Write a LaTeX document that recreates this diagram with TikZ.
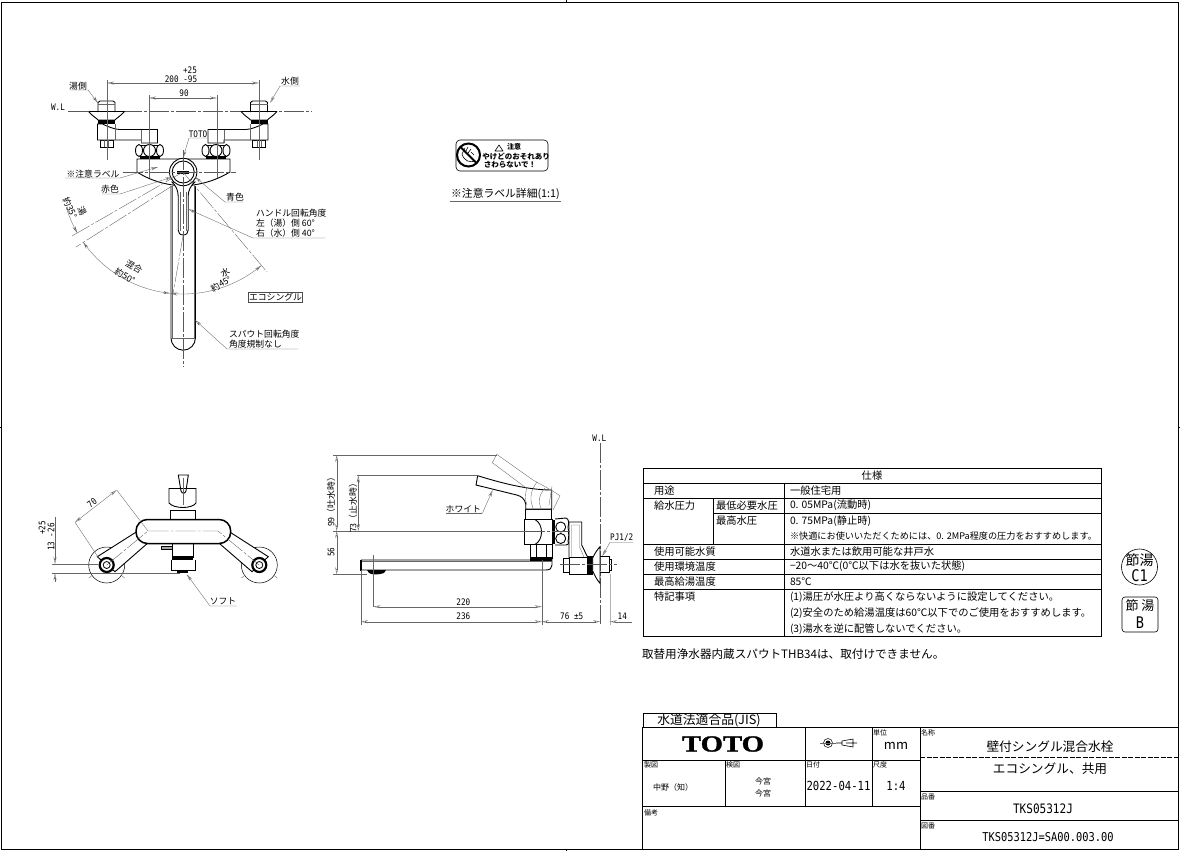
\documentclass[tikz,border=0pt]{standalone}
\usepackage{fontspec}
\usetikzlibrary{arrows.meta,positioning}
\setmainfont{Noto Sans CJK JP}
\newfontfamily\latinfont[FakeStretch=0.85]{DejaVu Sans Mono}
\newfontfamily\logofont[FakeStretch=1.25,FakeBold=1.5]{Liberation Serif}

\tikzset{
  every node/.style={inner sep=0pt,outer sep=0pt},
  thinline/.style={line width=0.35pt,black!60},
  outline/.style={line width=0.9pt},
  heavy/.style={line width=1.5pt},
  centerline/.style={line width=0.35pt,black!65,dash pattern=on 20pt off 2pt on 3pt off 2pt},
  dimline/.style={line width=0.35pt,black!60,{Stealth[open,length=7pt,width=3pt]}-{Stealth[open,length=7pt,width=3pt]}},
  leader/.style={line width=0.35pt,black!60,-{Stealth[open,length=7pt,width=3pt]}},
  note/.style={font=\fontsize{8.8}{10}\selectfont},
  dimtext/.style={font=\latinfont\fontsize{9}{10}\selectfont},
  cell/.style={font=\fontsize{10.3}{11}\selectfont,anchor=west},
  smallcell/.style={font=\fontsize{10.3}{11}\selectfont,anchor=west},
  tag/.style={font=\fontsize{7}{8}\selectfont,anchor=west},
  rule/.style={line width=0.5pt},
  block/.style={line width=1pt},
}

\begin{document}
\begin{tikzpicture}[x=1pt,y=-1pt]
\useasboundingbox (0,0) rectangle (1180,851);
\fill[white] (0,0) rectangle (1180,851);

% sheet frame
\draw[line width=1pt] (1.5,2.7) -- (1178,2.7) -- (1178,849) -- (1.5,849) -- cycle;
\draw[line width=0.6pt] (566.7,0) -- (566.7,2.7) (0,427) -- (1.5,427) (1178,427) -- (1180,427) (566.7,849) -- (566.7,851);

% front view, heads and arms
\draw[centerline] (68,111) -- (312,111);
\foreach \hx/\sgn in {106.5/1,259/-1}{
  \begin{scope}[shift={(\hx,0)},x=\sgn pt]
    \draw[outline,fill=white] (-8.5,112) -- (-8.5,102.5) -- (-6.5,101) -- (6.5,101) -- (8.5,102.5) -- (8.5,112);
    \draw[thinline] (-8.5,104) -- (8.5,104);
    \draw[outline] (-18,111.5) -- (18,111.5) (-18,111.5) .. controls (-13,117) and (-10,118) .. (-8.5,120) -- (8.5,120) .. controls (10,118) and (13,117) .. (18,111.5);
    \fill (-8.5,120) rectangle (8.5,124);
    \draw[outline,fill=white] (-6.5,140) rectangle (6.5,147);
    \draw[thinline] (-2,140) -- (-2,147) (2,140) -- (2,147);
    \draw[outline,fill=white] (-9,124) -- (-9,140) -- (35,140) -- (35,143) -- (51,143) -- (51,129.5) -- (13,129.5) .. controls (8,129.5) and (0,126) .. (-4,124) -- cycle;
    \draw[thinline] (35,129.5) -- (35,143) (9,124) -- (9,140);
    \draw[outline] (33,145) -- (53,145) (33,156) -- (53,156);
    \draw[outline,fill=white] (32.5,150.5) circle[x radius=3.5,y radius=6];
    \draw[outline,fill=white] (53.5,150.5) circle[x radius=3.5,y radius=6];
    \draw[outline,fill=white] (43,150.5) circle[x radius=6,y radius=6];
    \fill (33,156) rectangle (53,158.5);
  \end{scope}
}
% front view, body, spout and handle
\draw[outline,fill=white] (137,159) -- (230,159) -- (230,172) .. controls (215,181) and (200,185) .. (183,186) .. controls (166,185) and (151,181) .. (137,172) -- cycle;
\draw[outline] (171,186) -- (171,338) arc[start angle=180,end angle=0,radius=12.2] -- (195.4,186);
\draw[thinline] (172.5,186) -- (172.5,338) (193.9,186) -- (193.9,338) (171,338) -- (195.4,338);
\draw[outline,fill=white] (183.2,235) .. controls (180,235) and (178.2,233) .. (178.2,230) -- (178.2,196) .. controls (178,190) and (176,186) .. (172,182) -- (195,182) .. controls (190.5,186) and (188.4,190) .. (188.2,196) -- (188.2,230) .. controls (188.2,233) and (186.4,235) .. (183.2,235) -- cycle;
\draw[thinline] (180,192) -- (180,231) (186.5,192) -- (186.5,231);
\draw[outline,fill=white] (183.2,172) circle[radius=13.7];
\draw[outline,fill=white] (183.2,172) circle[radius=11];
\fill (177,171) rectangle (189,173.5);

% front view, center and dimension lines
\draw[centerline] (183.2,150) -- (183.2,367);
\draw[centerline] (123,172) -- (236,172);
\draw[centerline] (183,172) -- (267,272);
\draw[centerline] (183,172) -- (72,236);
\draw[centerline] (172,186) -- (76,247);
\draw[centerline] (183,236) -- (173,294);
\draw[thinline] (107,80) -- (107,160) (259,80) -- (259,160);
\draw[thinline] (149,95) -- (149,178) (217,95) -- (217,178);
\draw[dimline] (107,83) -- (259,83);
\draw[dimline] (149,98) -- (217,98);
\draw[dimline] plot[domain=50:96,samples=30] ({183+122*cos(\x)},{172+122*sin(\x)});
\draw[dimline] plot[domain=96:145,samples=30] ({183+122*cos(\x)},{172+122*sin(\x)});
\draw[thinline,{Stealth[open,length=7pt,width=3pt]}-] plot[domain=150:163,samples=15] ({183+122*cos(\x)},{172+122*sin(\x)});

\node[dimtext] (upperTol) at (190,70) {+25};
\node[dimtext] (outerDim) at (181,79) {200 -95};
\node[dimtext] (innerDim) at (184,93) {90};
\node[dimtext] (frontWL) at (58,107) {W.L};
\node[note] (hotSide) at (78,86) {湯側};
\node[note] (coldSide) at (290,81) {水側};
\node[dimtext] (brandMark) at (198,134) {TOTO};
\node[note] (cautionTag) at (93,174) {※注意ラベル};
\node[note] (redTag) at (110,189) {赤色};
\node[note] (blueTag) at (235,197) {青色};
\node[note,anchor=west] (handleA) at (256,213) {ハンドル回転角度};
\node[note,anchor=west] (handleB) at (256,223) {左（湯）側 60°};
\node[note,anchor=west] (handleC) at (256,233) {右（水）側 40°};
\node[note,draw,line width=0.4pt,black!70,text=black,inner xsep=0.5pt,minimum height=10pt] (ecoTag) at (275.5,297) {エコシングル};
\node[note,anchor=west] (spoutA) at (229,334) {スパウト回転角度};
\node[note,anchor=west] (spoutB) at (229,344) {角度規制なし};
\node[note,rotate=30] (waterA) at (225,272) {水};
\node[note,rotate=30] (waterB) at (221,284) {約45°};
\node[note,rotate=-30] (mixA) at (134,267) {混合};
\node[note,rotate=-30] (mixB) at (125,276) {約50°};
\node[note,rotate=-65] (hotA) at (82,211) {湯};
\node[note,rotate=-65] (hotB) at (70,208) {約35°};

\draw[leader] (70,90) -- (88,90) -- (98,103);
\draw[leader] (300,86) -- (280,86) -- (270,103);
\draw[leader] (207,138) -- (189,138) -- (183,158);
\draw[leader] (65,178) -- (120,178) -- (158,167);
\draw[leader] (102,194) -- (120,194) -- (172,177);
\draw[leader] (243,202) -- (225,202) -- (195,177);
\draw[leader] (325,238) -- (253,238) -- (188,209);
\draw[leader] (298,349) -- (227,349) -- (195,320);

% caution label
\draw[line width=0.6pt,rounded corners=4pt] (456,140) rectangle (548,171);
\node[draw,circle,line width=2pt,minimum size=23pt] (noTouch) at (468.5,155) {};
\draw[line width=2pt] (noTouch.north west) -- (noTouch.south east);
\draw[line width=0.6pt] (462,154) -- (465,148) (465,153) -- (468,147) (468,153) -- (471,149) (462,154) .. controls (464,161) and (470,163) .. (475,161) (471,152) -- (474,155);
\draw[line width=0.6pt,line join=round] (495,151) -- (499,145) -- (503,151) -- cycle;
\node[font=\fontsize{7}{8}\selectfont\bfseries,anchor=west] (cautionHead) at (507,147) {注意};
\node[font=\fontsize{7.5}{8}\selectfont\bfseries] (cautionA) at (516,156.5) {やけどのおそれあり};
\node[font=\fontsize{7.5}{8}\selectfont\bfseries] (cautionB) at (510,165) {さわらないで！};
\node[font=\fontsize{10.8}{11}\selectfont] (cautionDetail) at (505.5,194) {※注意ラベル詳細(1:1)};
\draw[thinline] (450,201) -- (561,201);

% lower left view
\foreach \cx in {106.7,259.3}{
  \draw[line width=0.5pt] (\cx,565) circle[radius=18];
  \draw[thinline] (\cx-18,578) -- (\cx-14,575) (\cx+14,575) -- (\cx+18,578);
}
\draw[outline,fill=white] (97.3,556.7) -- (136.7,531.7) -- (146.7,544) -- (115,571.7) -- cycle;
\draw[outline,fill=white] (268.3,556.7) -- (229.3,531.7) -- (220,544) -- (252,571.7) -- cycle;
\foreach \cx in {106.7,259.3}{
  \draw[line width=2.2pt,fill=white] (\cx,565) circle[radius=7];
  \draw[line width=0.8pt] (\cx,565) circle[radius=3.5];
}
\draw[outline,fill=white] (169,488.5) -- (196,488.5) -- (196,503) .. controls (192,509) and (174,509) .. (169,503) -- cycle;
\draw[outline,fill=white] (170.7,510) rectangle (195,519.5);
\draw[outline] (178.3,475) -- (188.3,475) -- (186,491) .. controls (185,494) and (182,494) .. (181,491) -- cycle;
\draw[thinline] (183.2,478) -- (183.2,505);
\draw[heavy,fill=white,rounded corners=11.5pt] (136,519.5) rectangle (230.7,543.5);
\draw[outline] (172,543.5) -- (172,557) -- (193,557) -- (193,543.5);
\fill (172,556) rectangle (193,559.5);
\draw[outline] (171,559.5) -- (171,570) -- (195,570) -- (195,559.5);
\fill (177,570) rectangle (188,573);
\draw[line width=0.5pt,fill=gray!70] (161.7,546) rectangle (172,549.3);
\draw[centerline] (106.7,565) -- (148,531) -- (218,531) -- (259.3,565);
\draw[thinline] (148,531) -- (116.7,490) (100,560) -- (75,522.3);
\draw[dimline] (75,522.3) -- (116.7,490);
\draw[thinline] (52,564) -- (98,564) (52,573.3) -- (180,573.3);
\draw[thinline,-{Stealth[open,length=7pt,width=3pt]}] (55,517) -- (55,564);
\draw[thinline,-{Stealth[open,length=7pt,width=3pt]}] (55,582) -- (55,573.3);
\node[dimtext,rotate=38] (armDim) at (92,503) {70};
\node[dimtext,rotate=90] (flangeTol) at (42,528) {+25};
\node[dimtext,rotate=90] (flangeDim) at (51,537) {13 -26};
\node[note] (softTag) at (223,601) {ソフト};
\draw[leader] (237,606) -- (210,606) -- (186.7,574.3);

% side view
\draw[centerline] (600,443) -- (600,624);
\draw[outline] (361,560) -- (530,560) (361,570) -- (546,570) .. controls (550,570) and (552,568) .. (552,565) -- (552,558);
\draw[thinline] (361,561.5) -- (552,561.5);
\draw[heavy] (361,559.5) -- (361,570.5);
\fill (367,570) -- (386,570) -- (384,573) .. controls (378,575) and (372,575) .. (369,573) -- cycle;
\fill (530,557) rectangle (552,560.5);
\draw[outline] (530,544.5) rectangle (552.3,558);
\draw[outline] (536.7,544.5) -- (536.7,558) (546.7,544.5) -- (546.7,558);
\draw[outline] (524,519.5) rectangle (552.3,544.5);
\draw[outline] (535,519.5) .. controls (539.5,522) and (541.5,527) .. (541.5,532) .. controls (541.5,537) and (539.5,542) .. (535,544.5);
\fill (552.3,520) rectangle (555,544);
\draw[outline] (525.7,509) rectangle (551,519.5);
\draw[outline,fill=white] (477.7,475.7) .. controls (495,481) and (525,490) .. (551.7,490) -- (551.7,509) -- (525.7,509) -- (525.7,504) .. controls (525,499) and (521,496) .. (516.7,495) -- (476,485) -- cycle;
\draw[thinline] (496.7,454.3) -- (533,480) .. controls (540,484) and (550,489) .. (560,495.7) -- (553,510);
\draw[thinline] (496.7,454.3) -- (492.3,462.7) -- (526.7,488.3) .. controls (525,495) and (525,500) .. (527,505);
\draw[thinline] (537,482) .. controls (531,490) and (529,498) .. (533,508) (545,488) .. controls (539,495) and (538,501) .. (541,508) (552,486) -- (549,505);
\draw[outline] (555,519) -- (566,518) .. controls (569,519) and (569,523) .. (568,527) .. controls (569,532) and (569,539) .. (568,541) .. controls (569,544) and (568,545) .. (566,545) -- (555,545);
\draw[outline,fill=white] (560.7,527) circle[radius=5];
\draw[outline,fill=white] (560.7,538.5) circle[radius=5];
\draw[outline] (569,557.7) -- (569,522) -- (581.7,522) -- (581.7,545) -- (587.3,556.5);
\draw[thinline] (571.5,557) -- (571.5,525) -- (579.5,525) -- (579.5,547) -- (584,557);
\draw[outline,fill=white] (569,557.7) rectangle (587.3,574);
\draw[outline,fill=white] (563.3,558) rectangle (569,572.7);
\fill (587.3,555.7) rectangle (592.7,575);
\draw[outline,fill=white] (592.7,558) .. controls (595,553) and (597,550) .. (600,546.7) -- (600,583.3) .. controls (597,580) and (595,576) .. (592.7,571) -- cycle;
\draw[outline] (600,556.7) -- (609.3,556.7) -- (609.3,572.7) -- (600,572.7);
\draw[outline] (609.3,559) -- (611,559) -- (611,570) -- (609.3,570);
\draw[centerline] (560,564.3) -- (617,564.3);
\draw[centerline] (525,531) -- (570,531);
\draw[thinline] (333,455) -- (497,455) (357,475.5) -- (478,475.5) (333,531) -- (525,531) (333,574.3) -- (367,574.3);
\draw[thinline] (373.3,555) -- (373.3,607) (541.7,560) -- (541.7,625) (361,570) -- (361,625);
\draw[line width=0.9pt,gray!60] (610,574) -- (610,625);
\draw[dimline] (336.7,455) -- (336.7,531);
\draw[dimline] (336.7,531) -- (336.7,574.3);
\draw[dimline] (358.3,475.5) -- (358.3,531);
\draw[dimline] (373.3,606.7) -- (541.7,606.7);
\draw[dimline] (361,621.7) -- (541.7,621.7);
\draw[dimline] (541.7,621.7) -- (600,621.7);
\draw[leader] (632,621.7) -- (610,621.7);
\node[dimtext] (sideWL) at (599.3,438) {W.L};
\node[note,rotate=90] (spoutDimA) at (331,500) {99（吐水時）};
\node[dimtext,rotate=90] (spoutDimB) at (331,552) {56};
\node[note,rotate=90] (stopDim) at (353,506) {73（止水時）};
\node[dimtext] (lenA) at (463.3,602.7) {220};
\node[dimtext] (lenB) at (463.3,616.7) {236};
\node[dimtext] (lenC) at (571.7,616.7) {76 ±5};
\node[dimtext] (lenD) at (622.3,616.7) {14};
\node[note] (whiteTag) at (463.3,509) {ホワイト};
\node[dimtext] (pipeTag) at (621.7,537.3) {PJ1/2};
\draw[thinline] (482.3,513.3) -- (446,513.3);
\draw[leader] (482.3,513.3) -- (492.7,490);
\draw[leader] (633,542.3) -- (610,542.3) -- (602.3,556);

% spec table
\draw[rule] (643,468) rectangle (1101,636);
\foreach \ry in {483,498,544,559,574,589} \draw[rule] (643,\ry) -- (1101,\ry);
\draw[rule] (713,513) -- (1101,513);
\draw[rule] (784,483) -- (784,636) (713,498) -- (713,544);
\node[cell,anchor=center] (specHead) at (872,476) {仕様};
\foreach \nm/\tx/\ry in {useRow/用途/490.5,feedRow/給水圧力/505.5,qualRow/使用可能水質/551.5,tempRow/使用環境温度/566.5,maxRow/最高給湯温度/581.5,noteRow/特記事項/597}
  \node[cell] (\nm) at (654,\ry) {\tx};
\node[cell] (minPress) at (716,505.5) {最低必要水圧};
\node[cell] (maxPress) at (716,521) {最高水圧};
\foreach \nm/\tx/\ry in {useVal/一般住宅用/490.5,qualVal/水道水または飲用可能な井戸水/551.5,tempVal/−20～40℃(0℃以下は水を抜いた状態)/566.5,maxVal/85℃/581.5}
  \node[smallcell] (\nm) at (790,\ry) {\tx};
\node[smallcell] (minVal) at (790,505.5) {0. 05MPa(流動時)};
\node[smallcell] (maxVal2) at (790,521) {0. 75MPa(静止時)};
\node[smallcell,font=\fontsize{9.15}{10}\selectfont] (maxHint) at (790,536.5) {※快適にお使いいただくためには、0. 2MPa程度の圧力をおすすめします。};
\node[smallcell] (noteA) at (790,597.5) {(1)湯圧が水圧より高くならないように設定してください。};
\node[smallcell] (noteB) at (790,613) {(2)安全のため給湯温度は60℃以下でのご使用をおすすめします。};
\node[smallcell] (noteC) at (790,629) {(3)湯水を逆に配管しないでください。};
\node[anchor=west,font=\fontsize{11.6}{12}\selectfont] (spoutWarn) at (642,654) {取替用浄水器内蔵スパウトTHB34は、取付けできません。};

% saving marks
\draw[line width=0.6pt] (1139.5,567) circle[radius=18];
\node[font=\fontsize{14}{14}\selectfont] (markA) at (1139.5,560) {節湯};
\node[font=\latinfont\fontsize{16}{16}\selectfont] (markB) at (1139.5,576) {C1};
\draw[line width=0.6pt,rounded corners=3pt] (1122,597) rectangle (1158,632);
\node[font=\fontsize{13}{13}\selectfont] (markC) at (1140,606) {節 湯};
\node[font=\latinfont\fontsize{16}{16}\selectfont] (markD) at (1140,623) {B};

% title block
\draw[rule] (643,713) rectangle (776,727);
\node[font=\fontsize{12.8}{13}\selectfont] (jisTag) at (709,720) {水道法適合品(JIS)};
\draw[block] (642,727) -- (1178,727) (642,727) -- (642,849) -- (1178,849);
\draw[block] (642,760) -- (920,760) (642,806.5) -- (920,806.5);
\draw[block] (725,760) -- (725,806.5) (805,727) -- (805,806.5) (872,727) -- (872,806.5) (920,727) -- (920,849);
\draw[block,dash pattern=on 5pt off 1.5pt] (920,757) -- (1178,757);
\draw[rule] (920,791.5) -- (1178,791.5) (920,820.5) -- (1178,820.5);
\node[font=\logofont\bfseries\fontsize{23}{24}\selectfont] (logo) at (723,744) {TOTO};
\draw[line width=0.5pt] (828,743) circle[radius=4.5];
\fill (828,743) circle[radius=2.5];
\draw[thinline] (820,743) -- (836,743);
\draw[line width=0.6pt] (836,743) -- (842,743) (842,741) -- (853,739) -- (853,747) -- (842,745) -- cycle (846,743) -- (857,743);
\foreach \nm/\tx/\tagx/\tagy in {unitTag/単位/873/733,nameTag/名称/921/733,drawTag/製図/644/765,checkTag/検図/726/765,dateTag/日付/806/765,scaleTag/尺度/873/765,noteTag/備考/644/813,partTag/品番/921/797,sheetTag/図番/921/826}
  \node[tag] (\nm) at (\tagx,\tagy) {\tx};
\node[font=\fontsize{13}{13}\selectfont] (unitVal) at (896,746) {mm};
\node[font=\fontsize{12.7}{13}\selectfont] (nameVal) at (1050,747) {壁付シングル混合水栓};
\node[font=\fontsize{12.7}{13}\selectfont] (nameSub) at (1050,769) {エコシングル、共用};
\node[font=\fontsize{8}{9}\selectfont] (drawVal) at (673,787) {中野（知）};
\node[font=\fontsize{8}{9}\selectfont] (checkA) at (763,781) {今宮};
\node[font=\fontsize{8}{9}\selectfont] (checkB) at (763,793) {今宮};
\node[font=\latinfont\fontsize{12.5}{13}\selectfont] (dateVal) at (838.5,786) {2022-04-11};
\node[font=\latinfont\fontsize{12.5}{13}\selectfont] (scaleVal) at (896,786) {1:4};
\node[font=\latinfont\fontsize{13}{13}\selectfont] (partVal) at (1043,809) {TKS05312J};
\node[font=\latinfont\fontsize{12.2}{13}\selectfont] (sheetVal) at (1048,837) {TKS05312J=SA00.003.00};
\end{tikzpicture}
\end{document}
